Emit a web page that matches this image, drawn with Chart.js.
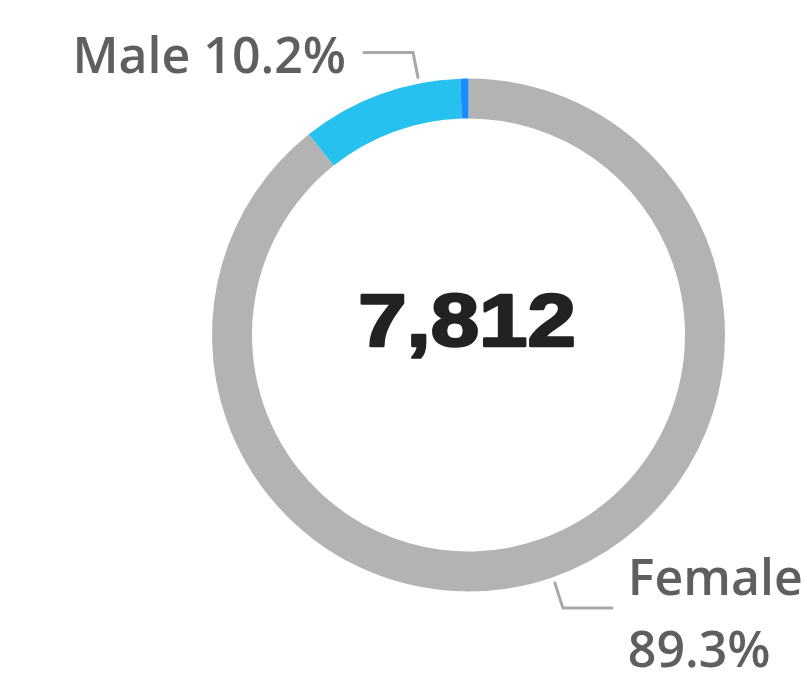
<!DOCTYPE html>
<html>
<head>
<meta charset="utf-8">
<script src="https://cdn.jsdelivr.net/npm/chart.js@4"></script>
<style>
  html, body { margin: 0; padding: 0; background: #ffffff; }
  #wrap { width: 807px; height: 674px; position: relative; }
</style>
</head>
<body>
<div id="wrap"><canvas id="c" width="807" height="674"></canvas></div>
<script>
// ---- data ----
const categories = ["Female", "Male", "Other"];
const shares = [89.3, 10.2, 0.5];
const segmentColors = ["#b3b3b3", "#26c1ee", "#1a8cff"];
const totalLabel = "7,812";
const maleLabel = "Male 10.2%";
const femaleLabelLines = ["Female", "89.3%"];

const labelPlugin = {
  id: 'labels',
  afterDraw(chart) {
    const ctx = chart.ctx;
    const meta = chart.getDatasetMeta(0);
    const arc0 = meta.data[0];
    const cx = arc0.x, cy = arc0.y, R = arc0.outerRadius;

    // center total
    ctx.save();
    ctx.translate(cx - 1.5, cy + 11);
    ctx.scale(1.16, 1);
    ctx.font = 'bold 75px "Liberation Sans", Arial, sans-serif';
    ctx.textAlign = 'center';
    ctx.textBaseline = 'alphabetic';
    ctx.fillStyle = '#222222';
    ctx.strokeStyle = '#222222';
    ctx.lineWidth = 2.5;
    ctx.lineJoin = 'round';
    ctx.strokeText(totalLabel, 0, 0);
    ctx.fillText(totalLabel, 0, 0);
    ctx.restore();

    // leader lines
    const rr = R + 6;
    ctx.save();
    ctx.strokeStyle = '#a8a8a8';
    ctx.lineWidth = 3;
    ctx.lineCap = 'round';
    ctx.lineJoin = 'round';
    const aM = -11.1 * Math.PI / 180;
    const mx = cx + rr * Math.sin(aM), my = cy - rr * Math.cos(aM);
    ctx.beginPath();
    ctx.moveTo(mx, my);
    ctx.lineTo(mx - 5, my - 25);
    ctx.lineTo(mx - 54, my - 25);
    ctx.stroke();
    const aF = 160.8 * Math.PI / 180;
    const fx = cx + rr * Math.sin(aF), fy = cy - rr * Math.cos(aF);
    ctx.beginPath();
    ctx.moveTo(fx, fy);
    ctx.lineTo(fx + 8, fy + 25);
    ctx.lineTo(fx + 57, fy + 25);
    ctx.stroke();
    ctx.restore();

    // labels
    ctx.save();
    ctx.fillStyle = '#5f5f5f';
    ctx.font = '600 50px "Open Sans", "Noto Sans", sans-serif';
    ctx.textBaseline = 'alphabetic';
    ctx.textAlign = 'right';
    ctx.fillText(maleLabel, mx - 72, my - 4);
    ctx.textAlign = 'left';
    ctx.fillText(femaleLabelLines[0], fx + 73, fy + 12);
    ctx.fillText(femaleLabelLines[1], fx + 73, fy + 84);
    ctx.restore();
  }
};

new Chart(document.getElementById('c'), {
  type: 'doughnut',
  data: {
    labels: categories,
    datasets: [{
      data: shares,
      backgroundColor: segmentColors,
      borderWidth: 0,
      hoverOffset: 0
    }]
  },
  options: {
    responsive: false,
    animation: false,
    cutout: '84.4%',
    layout: { padding: { left: 212, right: 82, top: 78, bottom: 82 } },
    plugins: {
      legend: { display: false },
      tooltip: { enabled: false }
    }
  },
  plugins: [labelPlugin]
});
</script>
</body>
</html>
